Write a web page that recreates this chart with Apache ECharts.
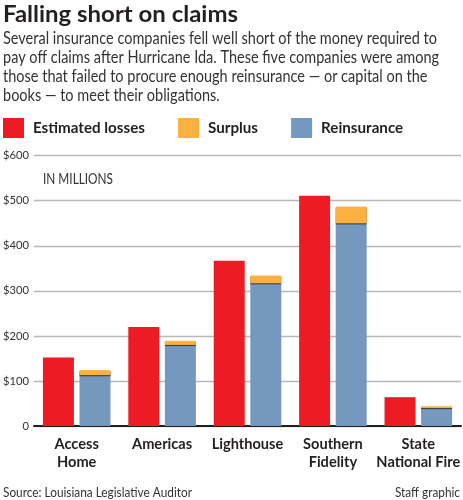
<!DOCTYPE html>
<html>
<head>
<meta charset="utf-8">
<script src="https://cdn.jsdelivr.net/npm/echarts@6/dist/echarts.min.js"></script>
<style>
html,body{margin:0;padding:0;background:#fff;overflow:hidden;}
#chart{width:463px;height:500px;}
</style>
</head>
<body>
<div id="chart"></div>
<script>
var categories = ['Access\nHome', 'Americas', 'Lighthouse', 'Southern\nFidelity', 'State\nNational Fire'];
var estimatedLosses = [152, 220, 367, 511, 64];
var reinsurance = [113, 180, 317, 450, 40];
var surplus = [11, 9, 17, 37, 4];
var yTicks = [0, 100, 200, 300, 400, 500, 600];
var titleText = 'Falling short on claims';
var subtitleLines = [
  'Several insurance companies fell well short of the money required to',
  'pay off claims after Hurricane Ida. These five companies were among',
  'those that failed to procure enough reinsurance \u2014 or capital on the',
  'books \u2014 to meet their obligations.'
];
var unitText = 'IN MILLIONS';
var sourceText = 'Source: Louisiana Legislative Auditor';
var creditText = 'Staff graphic';

var RED = '#ED1C24', YELLOW = '#FBB040', BLUE = '#7598BE';
var INK = '#231f20', GREY_INK = '#333';

var ctx = document.createElement('canvas').getContext('2d');
// pick the narrowest installed sans face (reference uses a condensed grotesque)
var candidates = ['Liberation Sans Narrow', 'DejaVu Sans Condensed', 'Roboto', 'Lato', 'Liberation Sans'];
var FONT = 'Roboto, sans-serif', best = Infinity;
candidates.forEach(function (f) {
  ctx.font = 'bold 20px monospace';
  var mono = ctx.measureText('Estimated losses National Fire').width;
  ctx.font = "bold 20px '" + f + "', monospace";
  var w = ctx.measureText('Estimated losses National Fire').width;
  if (Math.abs(w - mono) > 0.5 && w < best) { best = w; FONT = "'" + f + "', Roboto, sans-serif"; }
});

function tw(txt, weight, size) { ctx.font = weight + ' ' + size + 'px ' + FONT; return ctx.measureText(txt).width; }
function fit(txt, weight, size, target) { return Math.min(size, size * target / tw(txt, weight, size)); }

function sText(txt, weight, size, x, yMid, scale, fill, align) {
  return { type: 'text', x: x, y: yMid, scaleX: scale, silent: true,
    style: { text: txt, font: weight + ' ' + size + 'px ' + FONT, fill: fill,
      align: align || 'left', verticalAlign: 'middle' } };
}

var titleSize = 22.5, subSize = 16.5, footSize = 13, unitSize = 15;
var titleScale = 235 / tw(titleText, 'bold', titleSize);
var subScale = 434 / tw(subtitleLines[0], 'normal', subSize);
var footScale = 189 / tw(sourceText, 'normal', footSize);
var unitScale = 70 / tw(unitText, 'normal', unitSize);

var graphics = [sText(titleText, 'bold', titleSize, 3, 15, titleScale, INK)];
var subMids = [39.1, 58.1, 77.0, 95.9];
subtitleLines.forEach(function (l, i) { graphics.push(sText(l, 'normal', subSize, 3, subMids[i], subScale, GREY_INK)); });
graphics.push(sText(unitText, 'normal', unitSize, 43, 178.7, unitScale, GREY_INK));
graphics.push(sText(sourceText, 'normal', footSize, 3, 493, footScale, GREY_INK));
graphics.push(sText(creditText, 'normal', footSize, 460, 493, footScale, GREY_INK, 'right'));

var legendSize = fit('Estimated losses', 'bold', 16.5, 112);
var legendGap = 178 - (33 + tw('Estimated losses', 'bold', legendSize));
var xLabelSize = fit('National Fire', 'bold', 16, 84);
var yLabelSize = fit('$600', 'normal', 12.5, 26);

var chart = echarts.init(document.getElementById('chart'));
chart.setOption({
  animation: false,
  textStyle: { fontFamily: FONT },
  graphic: graphics,
  legend: {
    data: ['Estimated losses', 'Surplus', 'Reinsurance'],
    left: 3, top: 118, icon: 'rect', itemWidth: 21, itemHeight: 20, itemGap: legendGap,
    padding: 0, selectedMode: false,
    textStyle: { fontFamily: FONT, fontSize: legendSize, fontWeight: 'bold', color: INK, padding: [1, 0, 0, 4] }
  },
  grid: { left: 34, right: 2, top: 155.7, bottom: 74, containLabel: false, outerBoundsMode: 'none' },
  xAxis: {
    type: 'category', data: categories,
    axisLine: { lineStyle: { color: INK, width: 2 } },
    axisTick: { show: false },
    axisLabel: { interval: 0, margin: 9, fontFamily: FONT, fontSize: xLabelSize, fontWeight: 'bold', color: INK, lineHeight: 18.5 }
  },
  yAxis: {
    type: 'value', min: yTicks[0], max: yTicks[yTicks.length - 1], interval: 100,
    axisLine: { show: false }, axisTick: { show: false },
    splitLine: { lineStyle: { color: '#b8b8b8', width: 1.3 } },
    axisLabel: { margin: 5, fontFamily: FONT, fontSize: yLabelSize, color: GREY_INK,
      formatter: function (v) { return v === 0 ? '0' : '$' + v; } }
  },
  series: [
    { name: 'Estimated losses', type: 'bar', data: estimatedLosses, barWidth: 31, barGap: '18%',
      itemStyle: { color: RED } },
    { name: 'Reinsurance', type: 'bar', stack: 'cap', data: reinsurance, barWidth: 31,
      itemStyle: { color: BLUE } },
    { name: 'Surplus', type: 'bar', stack: 'cap', data: surplus, barWidth: 31,
      itemStyle: { color: YELLOW, shadowColor: 'rgba(60,55,50,0.85)', shadowOffsetY: 1.2, shadowBlur: 0 } }
  ]
});
</script>
</body>
</html>
